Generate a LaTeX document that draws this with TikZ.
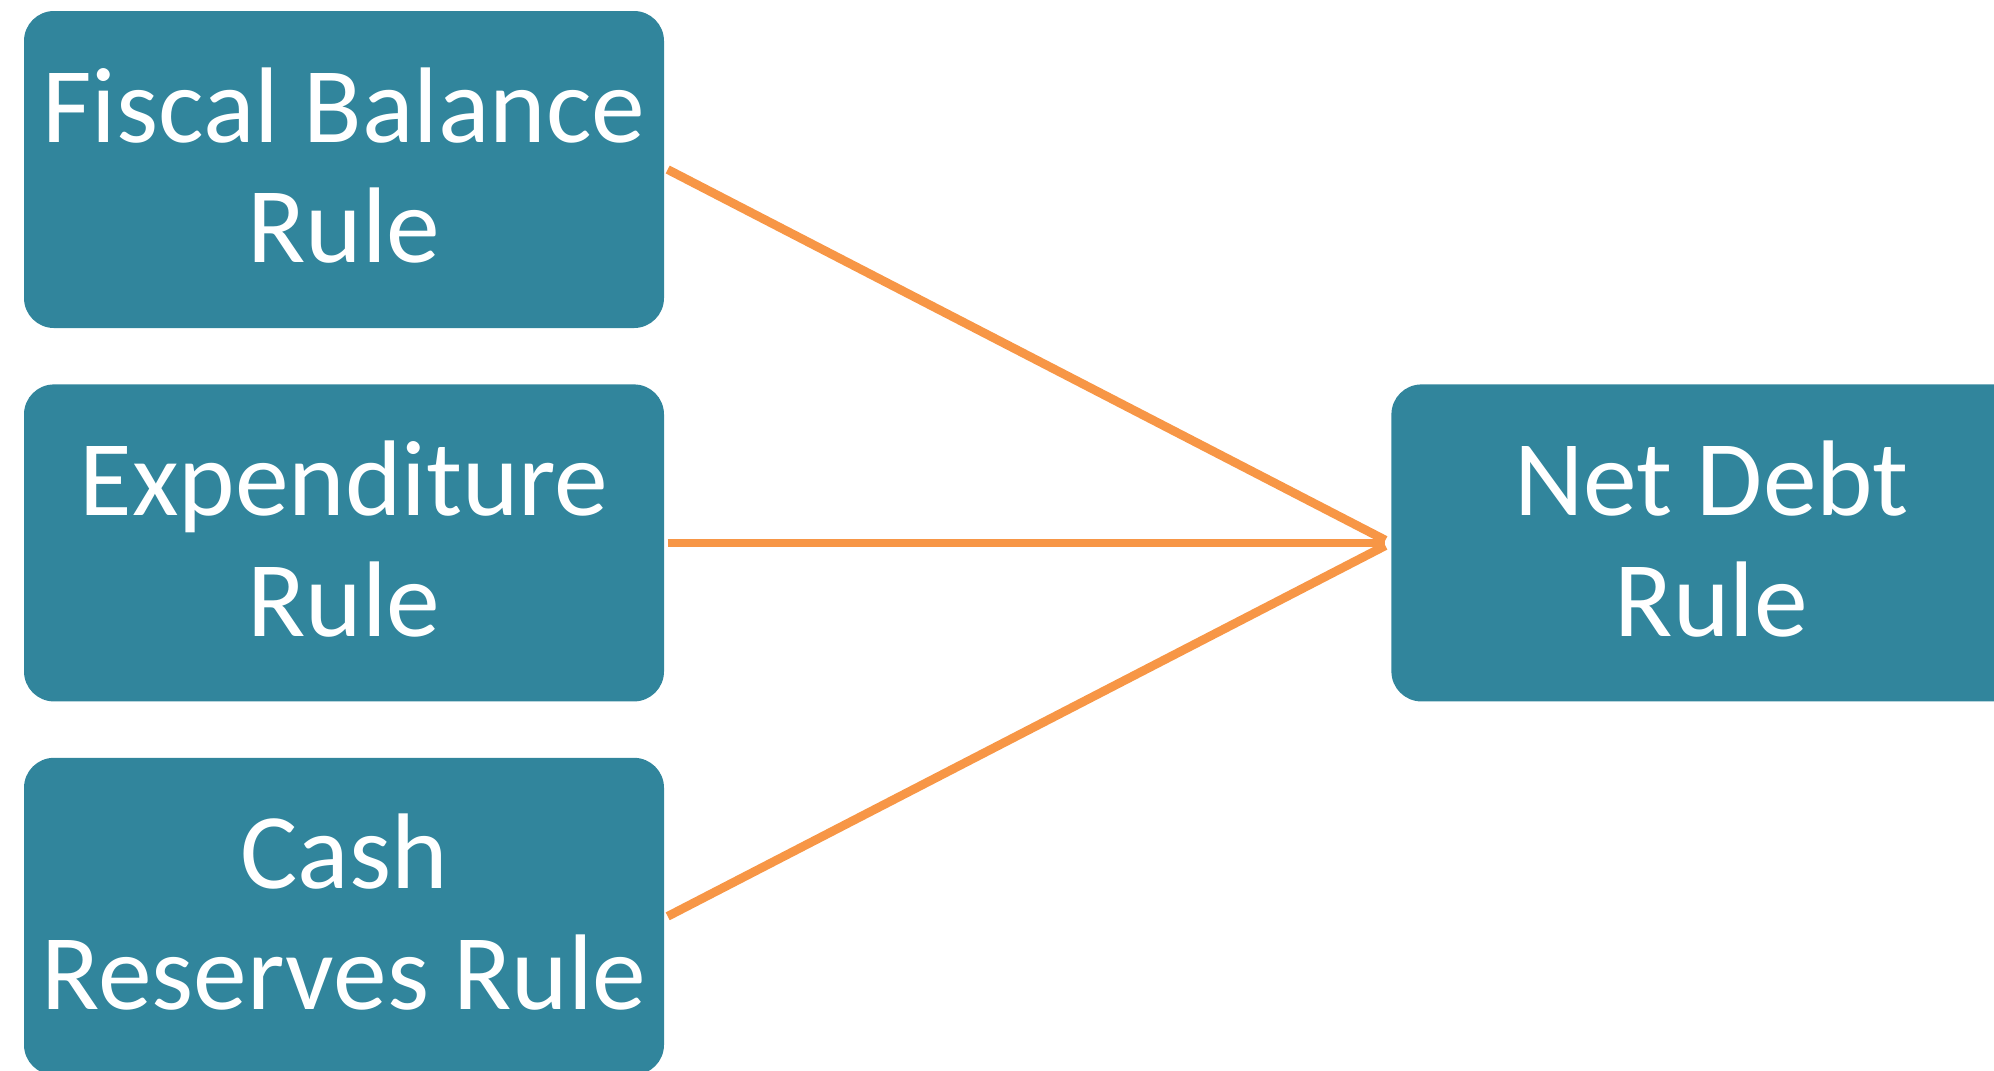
\documentclass[tikz,border=0pt]{standalone}
\usepackage{fontspec}
\setmainfont{Carlito}
\usetikzlibrary{positioning}
\definecolor{rulebox}{RGB}{49,133,156}
\definecolor{link}{RGB}{247,150,70}

\begin{document}
\begin{tikzpicture}[
    rulenode/.style={fill=rulebox, text=white, rounded corners=0.3cm,
        minimum width=6.4cm, minimum height=3.17cm, inner sep=0pt,
        text depth=0.09cm, align=center,
        font=\fontsize{30.6pt}{34.3pt}\selectfont},
    linkline/.style={link, line width=0.088cm}
]
    \useasboundingbox (0,0) rectangle (19.94,-10.70);

    % Rules on the left
    \node[rulenode] (fiscal) at (3.44,-1.695) {Fiscal Balance\\Rule};
    \node[rulenode, below=0.55cm of fiscal] (expend) {Expenditure\\Rule};
    \node[rulenode, below=0.55cm of expend] (cash) {Cash\\Reserves Rule};

    % Rule on the right
    \node[rulenode, right=7.26cm of expend] (netdebt) {Net Debt\\Rule};

    % Links
    \draw[linkline, shorten >=0.06cm] ([xshift=0.03cm]fiscal.east) -- (netdebt.west);
    \draw[linkline, shorten >=0.06cm] ([xshift=0.03cm]expend.east) -- (netdebt.west);
    \draw[linkline, shorten >=0.06cm] ([xshift=0.03cm]cash.east) -- (netdebt.west);

\end{tikzpicture}
\end{document}
